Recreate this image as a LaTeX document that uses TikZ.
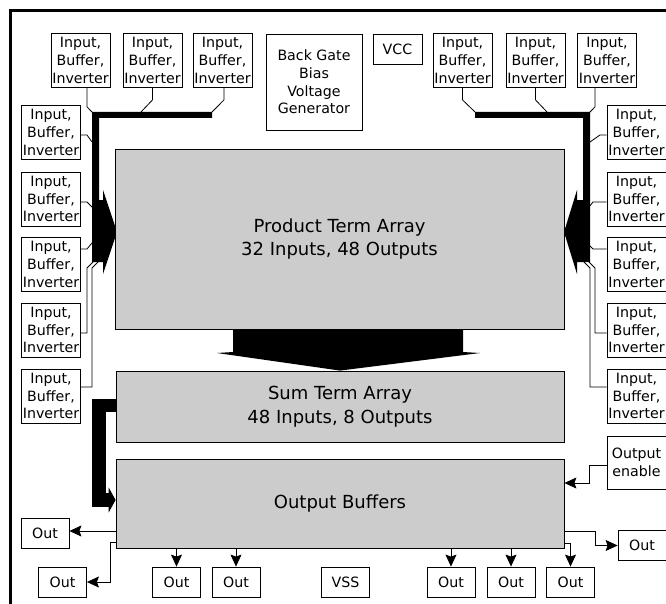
\documentclass[tikz,border=0pt]{standalone}
\usepackage{fontspec}
\setmainfont{DejaVu Sans}
\usetikzlibrary{arrows.meta}
\tikzset{
  box/.style={draw=black, line width=0.8pt, fill=white, inner sep=0pt, align=center, font=\fontsize{14.2}{17.8}\selectfont},
  ibox/.style={box, minimum width=59pt, minimum height=54pt},
  obox/.style={box, minimum width=48pt, minimum height=30pt},
  gbox/.style={draw=black, line width=0.8pt, fill=gray!40, inner sep=0pt, align=center, font=\fontsize{18}{23.5}\selectfont},
  wire/.style={line width=0.8pt, draw=black},
  arr/.style={wire, -{Stealth[length=12pt,width=11pt,inset=2pt]}},
  busfill/.style={fill=black},
}
\begin{document}
\begin{tikzpicture}[x=1pt,y=-1pt]
\useasboundingbox (0,0) rectangle (666,604);
% frame
\draw[line width=3pt] (10.5,620) -- (10.5,10.5) -- (690,10.5);

% buses
\fill[busfill] (92,112) -- (212,112) -- (212,118) -- (99,118) -- (99,200) -- (103,200) -- (103,190) -- (117,232) -- (103,274) -- (103,262) -- (92,262) -- cycle;
\fill[busfill] (590,112) -- (475,112) -- (475,118) -- (583,118) -- (583,200) -- (577,200) -- (577,190) -- (564,232) -- (577,274) -- (577,262) -- (590,262) -- cycle;

% top boxes
\node[ibox] (t1) at (80.5,60.5) {Input,\\Buffer,\\Inverter};
\node[ibox] (t2) at (152.5,60.5) {Input,\\Buffer,\\Inverter};
\node[ibox] (t3) at (222.5,60.5) {Input,\\Buffer,\\Inverter};
\node[box, minimum width=96pt, minimum height=96pt] (bg) at (314,82) {Back Gate\\Bias\\Voltage\\Generator};
\node[box, minimum width=49pt, minimum height=30pt] (vcc) at (397.5,49) {VCC};
\node[ibox] (r1) at (462.5,60.5) {Input,\\Buffer,\\Inverter};
\node[ibox] (r2) at (535.5,60.5) {Input,\\Buffer,\\Inverter};
\node[ibox] (r3) at (607,60.5) {Input,\\Buffer,\\Inverter};

% left column
\node[ibox] (l1) at (51,132.5) {Input,\\Buffer,\\Inverter};
\node[ibox] (l2) at (51,199) {Input,\\Buffer,\\Inverter};
\node[ibox] (l3) at (51,264.5) {Input,\\Buffer,\\Inverter};
\node[ibox] (l4) at (51,330) {Input,\\Buffer,\\Inverter};
\node[ibox] (l5) at (51,396) {Input,\\Buffer,\\Inverter};
% right column
\node[ibox] (q1) at (636.5,132.5) {Input,\\Buffer,\\Inverter};
\node[ibox] (q2) at (636.5,199) {Input,\\Buffer,\\Inverter};
\node[ibox] (q3) at (636.5,264.5) {Input,\\Buffer,\\Inverter};
\node[ibox] (q4) at (636.5,330) {Input,\\Buffer,\\Inverter};
\node[ibox] (q5) at (636.5,396) {Input,\\Buffer,\\Inverter};

% arrays
\node[gbox, minimum width=449pt, minimum height=180pt] (pta) at (339.5,239) {Product Term Array\\32 Inputs, 48 Outputs};
\node[gbox, minimum width=448pt, minimum height=71pt] (sta) at (340,406.5) {Sum Term Array\\48 Inputs, 8 Outputs};
\node[gbox, minimum width=448pt, minimum height=89pt] (ob) at (340,503.5) {Output Buffers};

% big arrow PTA -> STA
\fill[busfill] (233,329) -- (463,329) -- (463,352) -- (480,353) -- (sta.north) -- (217,353) -- (233,352) -- cycle;
% thick arrow STA -> OB
\draw[line width=13.5pt, line join=miter, -{Triangle[length=7pt,width=25pt]}] (sta.west |- 0,405.5) -- (99,405.5) -- (99,500) -- (ob.west |- 0,500);

% output boxes
\node[box, minimum width=59pt, minimum height=53pt] (oe) at (636.5,462.5) {Output\\enable};
\node[obox] (oR) at (642,545.5) {Out};
\node[obox] (o1) at (45,533.5) {Out};
\node[obox] (o2) at (62.5,582) {Out};
\node[obox] (o3) at (176.5,582) {Out};
\node[obox] (o4) at (236,582) {Out};
\node[obox] (vss) at (345.5,582) {VSS};
\node[obox] (o6) at (451,582) {Out};
\node[obox] (o7) at (511,582) {Out};
\node[obox] (o8) at (570.5,582) {Out};

% thin connectors to left bus
\draw[wire] ([xshift=6.5pt]t1.south) -- ++(0,19) -- (93,113);
\draw[wire] (t2.south) -- ++(0,12) -- (141,112);
\draw[wire] ([xshift=1.5pt]t3.south) -- ++(0,12) -- (212,112);
\draw[wire] (l1.east |- 0,135) -- (87,135) -- (92,142);
\draw[wire] (l2.east |- 0,202) -- (87,202) -- (92,207);
\draw[wire] (l3.east |- 0,249) -- (87,249) -- (92,243);
\draw[wire] (l4.east |- 0,333) -- (87,333) -- (87,268) -- (93,262);
\draw[wire] (l5.east |- 0,387) -- (92,387) -- (92,268) -- (98,262);
% thin connectors to right bus
\draw[wire] (r1.south) -- ++(0,12) -- (475,112);
\draw[wire] (r2.south) -- ++(0,12) -- (547,112);
\draw[wire] ([xshift=-12pt]r3.south) -- ++(0,19) -- (589,113);
\draw[wire] (q1.west |- 0,135) -- (600,135) -- (590,142);
\draw[wire] (q2.west |- 0,202) -- (593,202) -- (589,207);
\draw[wire] (q3.west |- 0,249) -- (593,249) -- (589,245);
\draw[wire] (q4.west |- 0,333) -- (595,333) -- (595,268) -- (589,262);
\draw[wire] (q5.west |- 0,387) -- (590,387) -- (590,268) -- (584,262);

% output connectors
\draw[arr] (ob.west |- 0,531) -- (o1.east |- 0,531);
\draw[arr] (ob.west |- 0,542) -- (110,542) |- (o2.east);
\draw[arr] (ob.south -| o3.north) -- (o3.north);
\draw[arr] (ob.south -| o4.north) -- (o4.north);
\draw[arr] (ob.south -| o6.north) -- (o6.north);
\draw[arr] (ob.south -| o7.north) -- (o7.north);
\draw[arr] (ob.east |- 0,543) -| (o8.north);
\draw[arr] (ob.east |- 0,531) -- (595,531) |- (oR.west);
\draw[arr] (oe.west |- 0,465) -- (589,465) |- (ob.east |- 0,483);
\end{tikzpicture}
\end{document}
